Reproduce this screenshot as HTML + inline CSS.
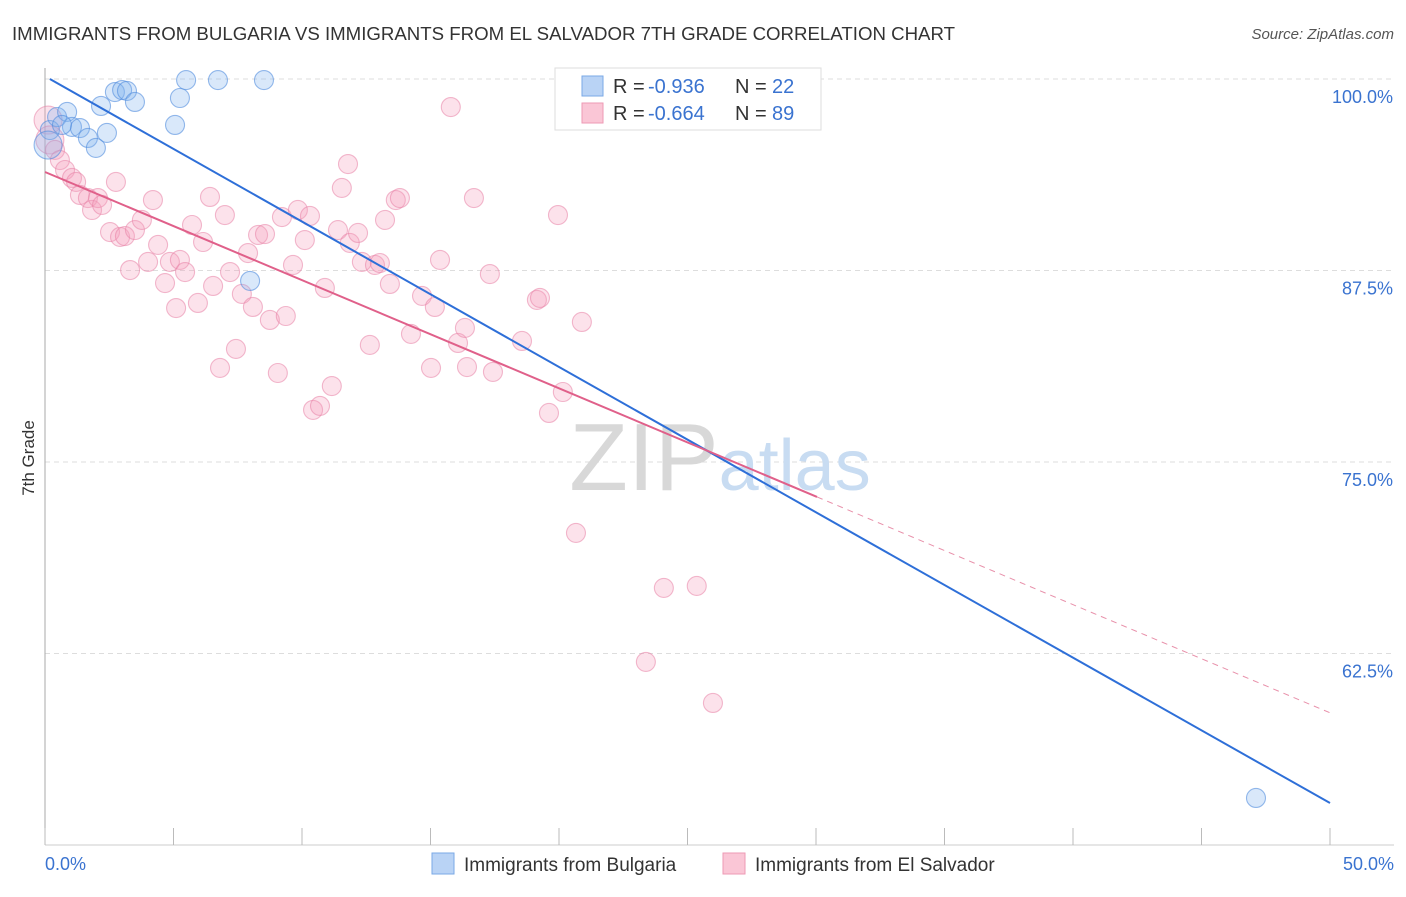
<!DOCTYPE html>
<html><head><meta charset="utf-8"><style>
body{margin:0;background:#fff;font-family:"Liberation Sans",sans-serif;}
svg text{font-family:"Liberation Sans",sans-serif;}
</style></head><body>
<svg width="1406" height="892">
<text x="12" y="40" font-size="18" fill="#333" textLength="943" lengthAdjust="spacingAndGlyphs">IMMIGRANTS FROM BULGARIA VS IMMIGRANTS FROM EL SALVADOR 7TH GRADE CORRELATION CHART</text>
<text x="1394" y="39" font-size="15" fill="#555" text-anchor="end" font-style="italic">Source: ZipAtlas.com</text>
<text x="34" y="458" font-size="17" fill="#333" transform="rotate(-90 34 458)" text-anchor="middle">7th Grade</text>
<g id="grid"></g>
<text x="720" y="490" font-size="96" fill="#ddd" text-anchor="middle" font-family="Liberation Serif"><tspan fill="#d8d8d8">ZIP</tspan><tspan fill="#c8dcf2" font-family="Liberation Sans" font-size="72">atlas</tspan></text>
<g id="pts"></g>
<g id="lines"></g>
<g>
<rect x="555" y="68" width="266" height="62" fill="#fff" stroke="#ddd"/>
<rect x="582" y="76" width="21" height="20" fill="#b9d3f5" stroke="#7aa8e6"/>
<rect x="582" y="103" width="21" height="20" fill="#fac6d6" stroke="#ee9ab4"/>
<text x="613" y="93" font-size="20" fill="#333">R = <tspan x="648" fill="#3a73d0">-0.936</tspan><tspan x="735">N = </tspan><tspan x="772" fill="#3a73d0">22</tspan></text>
<text x="613" y="120" font-size="20" fill="#333">R = <tspan x="648" fill="#3a73d0">-0.664</tspan><tspan x="735">N = </tspan><tspan x="772" fill="#3a73d0">89</tspan></text>
</g>
<g>
<rect x="432" y="853" width="22" height="21" fill="#b9d3f5" stroke="#7aa8e6"/>
<text x="464" y="871" font-size="19" fill="#333">Immigrants from Bulgaria</text>
<rect x="723" y="853" width="22" height="21" fill="#fac6d6" stroke="#ee9ab4"/>
<text x="755" y="871" font-size="19" fill="#333">Immigrants from El Salvador</text>
</g>
</svg>
<script>
const yTicks=[100,87.5,75,62.5];
const yTickLabels=["100.0%","87.5%","75.0%","62.5%"];
const xTickLabels=["0.0%","50.0%"];
const blueX=[0.19,0.47,0.86,1.05,1.36,1.67,1.98,2.18,2.41,2.72,3.0,3.19,3.5,5.06,5.25,5.49,6.73,8.52,7.98,47.12,0.12,0.66];
const blueY=[96.67,97.52,97.85,96.87,96.8,96.15,95.5,98.24,96.48,99.15,99.28,99.22,98.5,97.0,98.76,99.93,99.93,99.93,86.82,53.07,95.69,97.0];
const pinkX=[0.12,0.19,0.39,0.58,0.78,1.05,1.21,1.36,1.67,1.83,2.06,2.22,2.53,2.76,2.92,3.11,3.31,3.50,3.77,4.01,4.20,4.40,4.67,4.86,5.10,5.25,5.45,5.72,5.95,6.15,6.42,6.54,6.81,7.00,7.20,7.43,7.66,7.90,8.09,8.29,8.56,8.75,9.06,9.22,9.37,9.65,9.84,10.11,10.31,10.43,10.70,10.89,11.16,11.40,11.55,11.79,11.86,12.18,12.33,12.64,12.84,13.03,13.23,13.42,13.65,13.81,14.24,14.67,15.02,15.17,15.37,15.79,16.07,16.34,16.42,16.69,17.31,17.43,18.56,19.14,19.26,19.61,19.96,20.15,20.66,20.89,23.38,24.08,25.36,25.99];
const pinkY=[97.32,96.02,95.37,94.71,94.06,93.54,93.28,92.43,92.23,91.45,92.23,91.78,90.01,93.28,89.69,89.75,87.53,90.14,90.80,88.06,92.10,89.17,86.68,88.06,85.05,88.19,87.40,90.47,85.38,89.36,92.30,86.49,81.14,91.12,87.40,82.38,85.97,88.64,85.12,89.82,89.88,84.27,80.81,90.99,84.53,87.86,91.45,89.49,91.06,78.40,78.66,86.36,79.96,90.14,92.89,94.45,89.30,89.95,88.06,82.64,87.86,87.99,90.80,86.62,92.10,92.23,83.36,85.84,81.14,85.12,88.19,98.17,82.77,83.75,81.20,92.23,87.27,80.88,82.90,85.58,85.71,78.20,91.12,79.57,70.37,84.14,61.95,66.78,66.91,59.27];
const blueLine=[100.18,-0.9488];
const pinkLine=[93.93,-0.706];
const NS="http://www.w3.org/2000/svg";
const X0=45,X1=1330,Y0=79,YS=15.32;
function sx(v){return X0+(X1-X0)*v/50;}
function sy(v){return Y0+(100-v)*YS;}
function mk(tag,attrs,parent){const e=document.createElementNS(NS,tag);for(const k in attrs)e.setAttribute(k,attrs[k]);parent.appendChild(e);return e;}
const grid=document.getElementById('grid');
yTicks.forEach((t,i)=>{
 const l=mk('line',{x1:X0,x2:1394,y1:sy(t),y2:sy(t),stroke:'#ddd','stroke-dasharray':'5,4'},grid);
 
 
 const tx=mk('text',{x:1393,y:sy(t)+24,'font-size':18,fill:'#3a73d0','text-anchor':'end'},grid);
 tx.textContent=yTickLabels[i];
 
 
});
const ax=mk('line',{x1:X0,x2:X0,y1:68,y2:845,stroke:'#aaa'},grid);


const bx=mk('line',{x1:X0,x2:1394,y1:845,y2:845,stroke:'#ccc'},grid);


for(let i=0;i<=10;i++){
 const t=mk('line',{x1:sx(i*5),x2:sx(i*5),y1:828,y2:845,stroke:'#bbb'},grid);
 
 
}
[[0,'start',X0],[50,'end',1394]].forEach((d,i)=>{
 const tx=mk('text',{x:d[2],y:870,'font-size':18,fill:'#3a73d0','text-anchor':d[1]},grid);
 tx.textContent=xTickLabels[i];
 
 
});
const pts=document.getElementById('pts');
pinkX.forEach((x,i)=>{
 const c=mk('circle',{cx:sx(x),cy:sy(pinkY[i]),r:i<2?14:9.5,fill:'rgba(244,160,188,0.3)',stroke:'rgba(232,130,165,0.55)','stroke-width':1.1},pts);
 
 
});
blueX.forEach((x,i)=>{
 const c=mk('circle',{cx:sx(x),cy:sy(blueY[i]),r:i==20?14:9.5,fill:'rgba(130,178,238,0.3)',stroke:'rgba(80,140,222,0.6)','stroke-width':1.1},pts);
 
 
});
const lines=document.getElementById('lines');
const bl=mk('line',{x1:sx(0.19),y1:sy(blueLine[0]+blueLine[1]*0.19),x2:sx(50),y2:sy(blueLine[0]+blueLine[1]*50),stroke:'#2e6fd8','stroke-width':2},lines);


const pl=mk('line',{x1:sx(0),y1:sy(pinkLine[0]),x2:sx(30.04),y2:sy(pinkLine[0]+pinkLine[1]*30.04),stroke:'#e0608a','stroke-width':2},lines);


const pd=mk('line',{x1:sx(30.04),y1:sy(pinkLine[0]+pinkLine[1]*30.04),x2:sx(50),y2:sy(pinkLine[0]+pinkLine[1]*50),stroke:'#e890aa','stroke-width':1,'stroke-dasharray':'6,5'},lines);


</script>
</body></html>
